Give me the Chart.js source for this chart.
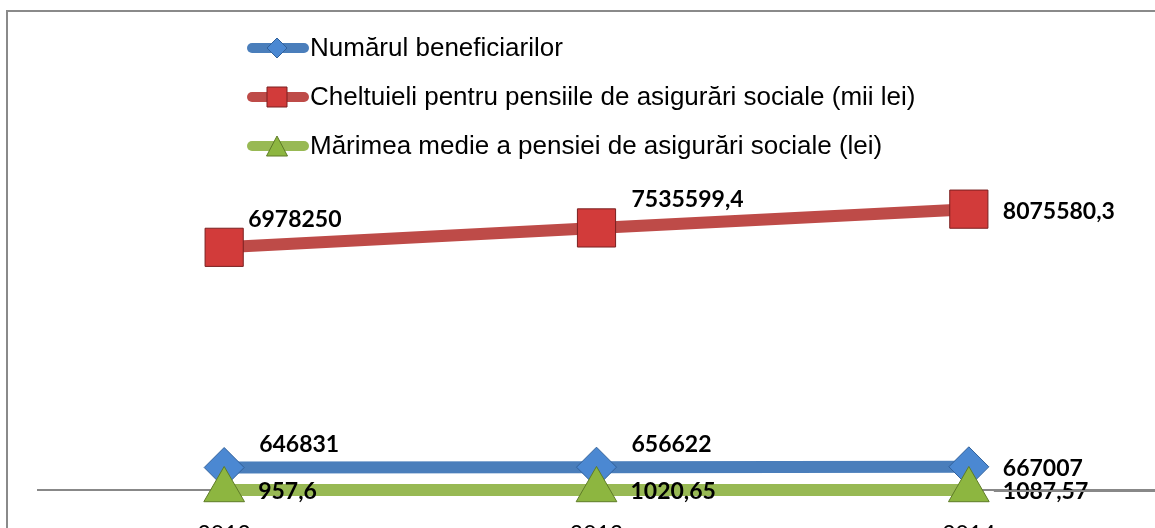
<!DOCTYPE html>
<html>
<head>
<meta charset="utf-8">
<script src="https://cdn.jsdelivr.net/npm/chart.js"></script>
<style>
  html, body { margin: 0; padding: 0; background: #fff; }
  #wrap { width: 1155px; height: 528px; }
</style>
</head>
<body>
<div id="wrap"><canvas id="pensii" width="1155" height="528"></canvas></div>
<script>
var years = ["2012", "2013", "2014"];
var beneficiari = [646831, 656622, 667007];
var cheltuieli = [6978250, 7535599.4, 8075580.3];
var marimeMedie = [957.6, 1020.65, 1087.57];
var labelsText = {
  beneficiari: ["646831", "656622", "667007"],
  cheltuieli: ["6978250", "7535599,4", "8075580,3"],
  marimeMedie: ["957,6", "1020,65", "1087,57"]
};

// small marker painter, used for the legend icons
function paintMarker(ctx, style, x, y, r, fill, stroke) {
  ctx.save();
  ctx.fillStyle = fill;
  ctx.strokeStyle = stroke;
  ctx.lineWidth = 1;
  ctx.beginPath();
  if (style === "rectRot") {
    ctx.moveTo(x, y - r); ctx.lineTo(x + r, y); ctx.lineTo(x, y + r); ctx.lineTo(x - r, y);
  } else if (style === "rect") {
    ctx.rect(x - r, y - r, 2 * r, 2 * r);
  } else {
    ctx.moveTo(x, y - r); ctx.lineTo(x + r * 1.05, y + r); ctx.lineTo(x - r * 1.05, y + r);
  }
  ctx.closePath();
  ctx.fill();
  ctx.stroke();
  ctx.restore();
}

var frameAndLabels = {
  id: "frameAndLabels",
  beforeDraw: function (chart) {
    var ctx = chart.ctx;
    // outer frame (right / bottom edges fall outside the picture)
    ctx.save();
    ctx.strokeStyle = "#8a8a8a";
    ctx.lineWidth = 2;
    ctx.beginPath();
    ctx.moveTo(7, 528);
    ctx.lineTo(7, 11);
    ctx.lineTo(1155, 11);
    ctx.stroke();
    ctx.restore();

    // legend, stacked and left aligned
    var rows = [48, 97, 146];
    chart.data.datasets.forEach(function (ds, i) {
      var y = rows[ds.legendRow];
      ctx.save();
      ctx.strokeStyle = ds.borderColor;
      ctx.lineWidth = 10;
      ctx.lineCap = "round";
      ctx.beginPath();
      ctx.moveTo(252, y);
      ctx.lineTo(304, y);
      ctx.stroke();
      ctx.restore();
      paintMarker(ctx, ds.pointStyle, 277, y, 10, ds.pointBackgroundColor, ds.pointBorderColor);
      ctx.save();
      ctx.fillStyle = "#000";
      ctx.font = "26px 'Liberation Sans', Arial, sans-serif";
      ctx.textBaseline = "middle";
      ctx.fillText(ds.label, 310, y + 1);
      ctx.restore();
    });
  },
  afterDatasetsDraw: function (chart) {
    var ctx = chart.ctx;
    // value labels next to each point
    ctx.save();
    ctx.fillStyle = "#000";
    ctx.font = "bold 23px Lato, 'Open Sans', sans-serif";
    ctx.textBaseline = "middle";
    var lastX = 0;
    chart.data.datasets.forEach(function (ds, i) {
      var meta = chart.getDatasetMeta(i);
      meta.data.forEach(function (pt, j) {
        var last = j === meta.data.length - 1;
        var dx, dy;
        if (ds.labelAbove && !last) {
          dx = ds.labelDx[j];
          dy = ds.labelDy;
        } else {
          dx = 34;
          dy = 2;
        }
        if (last) lastX = pt.x;
        ctx.fillText(ds.valueText[j], pt.x + dx, pt.y + dy);
      });
    });
    // the axis line runs over the labels right of the last category
    var xs = chart.scales.x;
    ctx.strokeStyle = "#888888";
    ctx.lineWidth = 2;
    ctx.beginPath();
    ctx.moveTo(lastX + 25, xs.top + 1);
    ctx.lineTo(xs.right, xs.top + 1);
    ctx.stroke();
    ctx.restore();
  }
};

new Chart(document.getElementById("pensii"), {
  type: "line",
  data: {
    labels: years,
    datasets: [
      {
        label: "Numărul beneficiarilor",
        data: beneficiari,
        valueText: labelsText.beneficiari,
        legendRow: 0,
        labelAbove: true,
        labelDx: [35, 35],
        labelDy: -23,
        borderColor: "#4a7ebb",
        borderWidth: 12,
        pointStyle: "rectRot",
        pointRadius: 20,
        pointBackgroundColor: "#4b88d2",
        pointBorderColor: "#30609a",
        pointBorderWidth: 1,
        clip: false,
        order: 1
      },
      {
        label: "Cheltuieli pentru pensiile de asigurări sociale (mii lei)",
        data: cheltuieli,
        valueText: labelsText.cheltuieli,
        legendRow: 1,
        labelAbove: true,
        labelDx: [24, 35],
        labelDy: -28,
        borderColor: "#be4b48",
        borderWidth: 12,
        pointStyle: "rect",
        pointRadius: 27,
        pointBackgroundColor: "#d23b3a",
        pointBorderColor: "#7a2020",
        pointBorderWidth: 1,
        clip: false,
        order: 2
      },
      {
        label: "Mărimea medie a pensiei de asigurări sociale (lei)",
        data: marimeMedie,
        valueText: labelsText.marimeMedie,
        legendRow: 2,
        labelAbove: false,
        borderColor: "#98b954",
        borderWidth: 12,
        pointStyle: "triangle",
        pointRadius: 23.5,
        pointBackgroundColor: "#8db640",
        pointBorderColor: "#5e7b27",
        pointBorderWidth: 1,
        clip: false,
        order: 0
      }
    ]
  },
  options: {
    responsive: false,
    devicePixelRatio: 1,
    animation: false,
    events: [],
    layout: { autoPadding: false, padding: { top: 177, left: 38, right: 0, bottom: 0 } },
    plugins: {
      legend: { display: false },
      tooltip: { enabled: false }
    },
    scales: {
      x: {
        offset: true,
        grid: { display: false },
        border: { display: true, color: "#888888", width: 2 },
        ticks: {
          color: "#000",
          padding: 23,
          font: { family: "Lato, 'Open Sans', sans-serif", size: 23 }
        },
        afterFit: function (scale) { scale.height = 38; }
      },
      y: {
        display: false,
        min: 0,
        max: 9000000
      }
    }
  },
  plugins: [frameAndLabels]
});
</script>
</body>
</html>
